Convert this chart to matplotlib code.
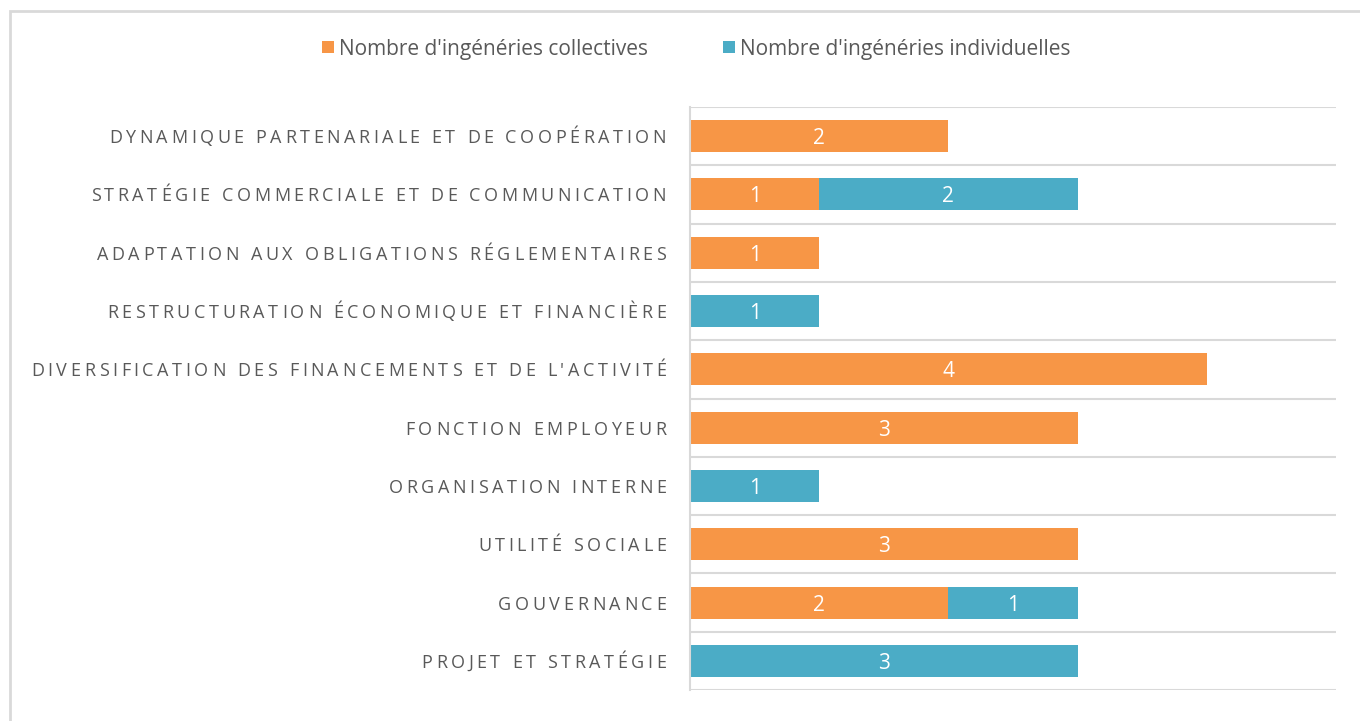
import matplotlib.pyplot as plt
from matplotlib.patches import Rectangle
import numpy as np

categories = [
    "DYNAMIQUE PARTENARIALE ET DE COOPÉRATION",
    "STRATÉGIE COMMERCIALE ET DE COMMUNICATION",
    "ADAPTATION AUX OBLIGATIONS RÉGLEMENTAIRES",
    "RESTRUCTURATION ÉCONOMIQUE ET FINANCIÈRE",
    "DIVERSIFICATION DES FINANCEMENTS ET DE L'ACTIVITÉ",
    "FONCTION EMPLOYEUR",
    "ORGANISATION INTERNE",
    "UTILITÉ SOCIALE",
    "GOUVERNANCE",
    "PROJET ET STRATÉGIE",
]
collectives = [2, 1, 1, 0, 4, 3, 0, 3, 2, 0]
individuelles = [0, 2, 0, 1, 0, 0, 1, 0, 1, 3]
series_names = ["Nombre d'ingénéries collectives", "Nombre d'ingénéries individuelles"]

orange = "#F79646"
blue = "#4BACC6"
grey_text = "#595959"
grid_col = "#D9D9D9"

plt.rcParams['font.family'] = ['Open Sans', 'DejaVu Sans']

W, H, DPI = 1360, 721, 100
fig = plt.figure(figsize=(W / DPI, H / DPI), dpi=DPI)
ax = fig.add_axes([690 / W, 1 - 690 / H, (1336 - 690) / W, (690 - 107) / H])

y = np.arange(len(categories))
b1 = ax.barh(y, collectives, height=0.55, color=orange, label=series_names[0])
b2 = ax.barh(y, individuelles, left=collectives, height=0.55, color=blue, label=series_names[1])

for bars in (b1, b2):
    for r in bars:
        w = r.get_width()
        if w > 0:
            ax.text(r.get_x() + w / 2, r.get_y() + r.get_height() / 2, str(int(w)),
                    ha='center', va='center_baseline', color='white', fontsize=15)

ax.set_xlim(0, 5)
ax.set_ylim(len(categories) - 0.5, -0.5)
ax.set_xticks([])
ax.set_yticks([])
for b in np.arange(len(categories) + 1) - 0.5:
    ax.axhline(b, color=grid_col, lw=1.5, zorder=0)
for s in ['top', 'right', 'bottom']:
    ax.spines[s].set_visible(False)
ax.spines['left'].set_color(grid_col)
ax.spines['left'].set_linewidth(1.5)

# category labels with letter spacing, drawn char by char, right aligned
fs = 13
renderer = fig.canvas.get_renderer()


def char_widths(s):
    out = []
    for ch in s:
        t = fig.text(0, 0, ch if ch != ' ' else 'a a', fontsize=fs)
        w = t.get_window_extent(renderer).width
        if ch == ' ':
            t2 = fig.text(0, 0, 'aa', fontsize=fs)
            w = w - t2.get_window_extent(renderer).width
            t2.remove()
        t.remove()
        out.append(w)
    return out


longest = categories[4]
nat = sum(char_widths(longest))
extra = (635 - nat) / (len(longest) - 1)
right_px = 666

for i, lab in enumerate(categories):
    ws = char_widths(lab)
    total = sum(ws) + extra * (len(lab) - 1)
    x = right_px - total
    yfig = ax.transData.transform((0, i))[1] - 2
    for ch, w in zip(lab, ws):
        if ch != ' ':
            fig.text(x / W, yfig / H, ch, fontsize=fs, color=grey_text,
                     ha='left', va='center')
        x += w + extra

fig.legend(loc='center', bbox_to_anchor=(0.512, 1 - 49 / H), ncol=2, frameon=False,
           fontsize=15, labelcolor=grey_text, handlelength=0.55, handleheight=0.55,
           handletextpad=0.25, columnspacing=3.6)

fig.patches.append(Rectangle((9.5 / W, -0.1), 1.2, 1 - 10.5 / H + 0.1, transform=fig.transFigure,
                             fill=False, edgecolor=grid_col, lw=2, figure=fig))

fig.savefig("out.png", dpi=DPI)
